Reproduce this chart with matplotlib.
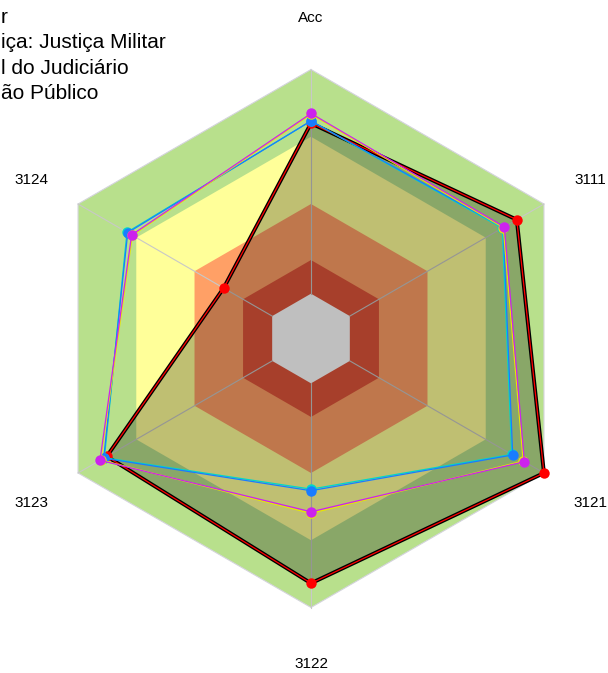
import numpy as np
import matplotlib
matplotlib.use("Agg")
import matplotlib.pyplot as plt

plt.rcParams['font.family'] = ['Liberation Sans', 'DejaVu Sans']

# axes of the radar, clockwise from the top
axis_labels = ["Acc", "3111", "3121", "3122", "3123", "3124"]
axis_angles = [90, 30, -30, -90, -150, 150]

# background bands (values on the 0..1 scale), outer to inner
band_values = [1.0, 0.7, 0.4, 0.15, 0.0]
band_colors = ["#b8e08c", "#ffff99", "#ffa066", "#e0553a", "white"]

# series values (0..1 scale)
serie_red = [0.76, 0.86, 1.0, 0.892, 0.852, 0.25]
serie_cyan = [0.77, 0.785, 0.834, 0.472, 0.864, 0.748]
serie_blue = [0.771, 0.79, 0.839, 0.479, 0.868, 0.744]
serie_yellow = [0.80, 0.79, 0.893, 0.58, 0.883, 0.72]
serie_magenta = [0.804, 0.796, 0.899, 0.573, 0.887, 0.724]

legend_labels = ["r", "iça: Justiça Militar", "l do Judiciário", "ão Público"]


def to_radius(v):
    # center hole like fmsb (centerzero = FALSE)
    return 1 / 6 + 5 / 6 * np.asarray(v, dtype=float)


def xy(values):
    r = to_radius(values)
    a = np.radians(axis_angles)
    x = r * np.cos(a)
    y = r * np.sin(a)
    return np.append(x, x[0]), np.append(y, y[0])


fig = plt.figure(figsize=(6.08, 6.73), dpi=100)
ax = fig.add_axes([0, 0, 1, 1])
ax.set_xlim(-311 / 269, (608 - 311) / 269)
ax.set_ylim(-334.5 / 269, 338.5 / 269)
ax.axis('off')

# bands
for v, c in zip(band_values, band_colors):
    bx, by = xy([v] * 6)
    ax.fill(bx, by, color=c, lw=0, zorder=1)

# spokes and outer frame
ox, oy = xy([1.0] * 6)
ax.plot(ox, oy, color="#d4d4dc", lw=0.8, zorder=2)
cx, cy = xy([0.0] * 6)
for i in range(6):
    ax.plot([cx[i], ox[i]], [cy[i], oy[i]], color="#c8c8c8", lw=0.8, zorder=2)

# main series: filled, black outline with red line
rx, ry = xy(serie_red)
ax.fill(rx, ry, color="black", alpha=0.25, lw=0, zorder=3)
ax.plot(rx, ry, color="black", lw=2.8, zorder=4, solid_joinstyle='miter')
ax.plot(rx, ry, color="red", lw=0.9, zorder=5)
ax.plot(rx[:-1], ry[:-1], 'o', color="red", ms=7.5, mec='none', zorder=6)

# other series
others = [(serie_cyan, "#00d8c8"), (serie_blue, "#1a7cff"),
          (serie_yellow, "#e8e800"), (serie_magenta, "#cc22ee")]
z = 7
for vals, col in others:
    sx, sy = xy(vals)
    ax.plot(sx, sy, color=col, lw=0.9, zorder=z)
    ax.plot(sx[:-1], sy[:-1], 'o', color=col, ms=7.5, mec='none', zorder=z + 1)
    z += 2

# axis labels
for lab, ang in zip(axis_labels, axis_angles):
    a = np.radians(ang)
    ax.text(1.2 * np.cos(a), 1.2 * np.sin(a) - 0.01, lab, ha='center', va='center',
            fontsize=11, color="black")

# legend (clipped at left edge)
for i, lab in enumerate(legend_labels):
    fig.text(1 / 608, 1 - (23.3 + 25.2 * i) / 673, lab, ha='left', va='baseline',
             fontsize=15, color="black")

fig.savefig("out.png", dpi=100)
